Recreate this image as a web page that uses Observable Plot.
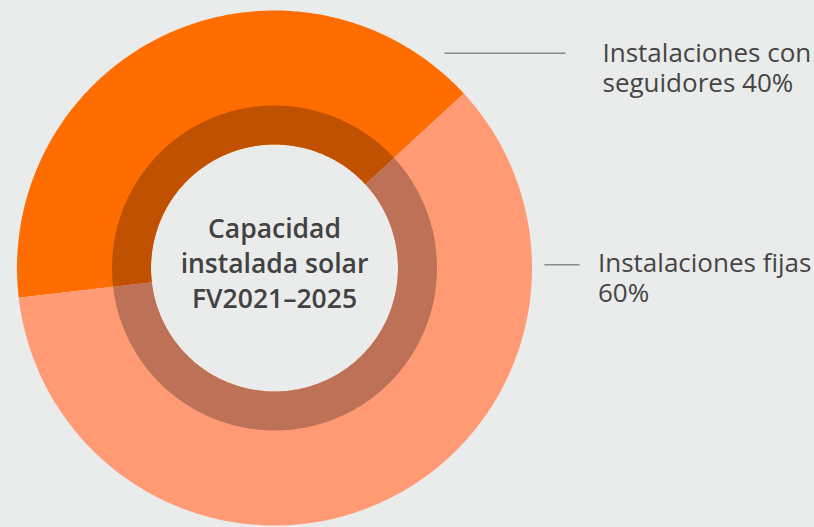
<!DOCTYPE html>
<html>
<head>
<meta charset="utf-8">
<script src="https://cdn.jsdelivr.net/npm/d3@7"></script>
<script src="https://cdn.jsdelivr.net/npm/@observablehq/plot@0.6"></script>
<style>
  html, body { margin: 0; padding: 0; background: #e9ecea; }
  #chart svg { display: block; }
</style>
</head>
<body>
<div id="chart"></div>
<script>
// ---- data ----
const categories = ["Instalaciones con seguidores", "Instalaciones fijas"];
const shares = [40, 60];
const labelLines = [
  ["Instalaciones con", "seguidores 40%"],
  ["Instalaciones fijas", "60%"]
];
const centerLines = ["Capacidad", "instalada solar", "FV2021–2025"];

// ---- style / layout ----
const W = 814, H = 527;
const CX = 274, CY = 267.5;           // pixel centre of the donut
const R_OUT = 257.5, R_RING_OUT = 162.5, R_RING_IN = 123.5;
const sliceColors = ["#ff6d00", "#ff9a74"];
const ringColors = ["#bf5100", "#bd7157"];
const textColor = "#454545";
const font = "'Open Sans', Lato, sans-serif";
// orange slice is centred at about -24.6° (clockwise from north)
const START = (-24.65 / 360) * 2 * Math.PI - (shares[0] / 100) * Math.PI;

const pie = d3.pie().sort(null).value(d => d).startAngle(START).endAngle(START + 2 * Math.PI);
const arcs = pie(shares);

function ringPolygon(a0, a1, rIn, rOut, key) {
  const n = 240, pts = [];
  for (let i = 0; i <= n; i++) {
    const a = a0 + (a1 - a0) * i / n;
    pts.push({k: key, x: rOut * Math.sin(a), y: rOut * Math.cos(a)});
  }
  for (let i = n; i >= 0; i--) {
    const a = a0 + (a1 - a0) * i / n;
    pts.push({k: key, x: rIn * Math.sin(a), y: rIn * Math.cos(a)});
  }
  return pts;
}

const slicePts = arcs.flatMap((a, i) => ringPolygon(a.startAngle, a.endAngle, R_RING_IN, R_OUT, categories[i]));
const ringPts = arcs.flatMap((a, i) => ringPolygon(a.startAngle, a.endAngle, R_RING_IN, R_RING_OUT, categories[i] + " ring"));

// px -> data coords
const X = px => px - CX;
const Y = py => CY - py;
// y (px) for a multi-line text with lineAnchor "middle" whose first baseline is at base
const midY = (base, n, fs, lh) => base - 0.32 * fs + (n - 1) / 2 * lh;

const FS = 26, LH = 30;
const labelPos = [
  {x: 602, base: 60.5, lx1: 444, lx2: 565, ly: 52.7},
  {x: 597.5, base: 270.2, lx1: 544, lx2: 579, ly: 264.3}
];
const labelTexts = labelLines.map((lines, i) =>
  ({t: lines.join("\n"), x: X(labelPos[i].x), y: Y(midY(labelPos[i].base, lines.length, FS, LH))}));
const leaders = labelPos.map(p => ({x1: X(p.lx1), x2: X(p.lx2), y: Y(p.ly)}));
const CFS = 26.5, CLH = 35;
const centerTexts = [{t: centerLines.join("\n"), x: 0, y: Y(midY(235, centerLines.length, CFS, CLH))}];

const plot = Plot.plot({
  width: W, height: H,
  margin: 0,
  style: {background: "#e9ecea", fontFamily: font},
  x: {domain: [-CX, W - CX], range: [0, W], axis: null},
  y: {domain: [CY - H, CY], range: [H, 0], axis: null},
  color: {domain: categories.concat(categories.map(c => c + " ring")), range: sliceColors.concat(ringColors)},
  marks: [
    Plot.line(slicePts, {x: "x", y: "y", z: "k", fill: "k", stroke: null, curve: "linear"}),
    Plot.line(ringPts, {x: "x", y: "y", z: "k", fill: "k", stroke: null, curve: "linear"}),
    Plot.link(leaders, {x1: "x1", x2: "x2", y1: "y", y2: "y", stroke: "#8a8c8b", strokeWidth: 1.5}),
    Plot.text(labelTexts, {x: "x", y: "y", text: "t", textAnchor: "start", lineAnchor: "middle", lineHeight: LH / FS, fontSize: FS, fill: textColor, fontFamily: font}),
    Plot.text(centerTexts, {x: "x", y: "y", text: "t", textAnchor: "middle", lineAnchor: "middle", lineHeight: CLH / CFS, fontSize: CFS, fontWeight: 600, fill: "#424242", fontFamily: font})
  ]
});
document.getElementById("chart").appendChild(plot);
</script>
</body>
</html>
